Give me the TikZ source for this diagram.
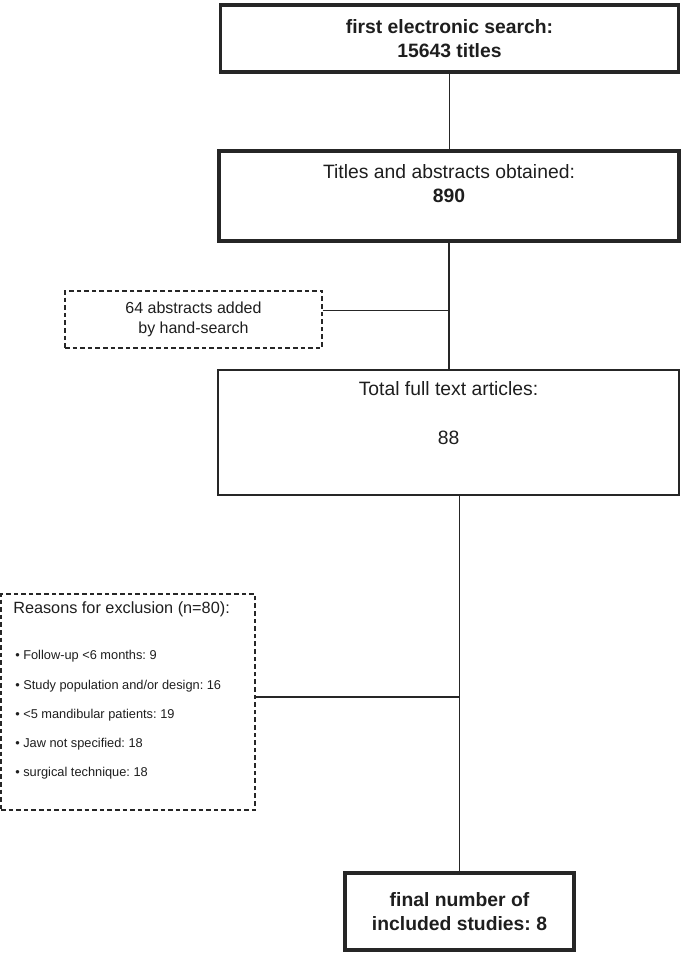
\documentclass[tikz,border=0pt]{standalone}
\usepackage{fontspec}
\setmainfont{Liberation Sans}
\frenchspacing
\definecolor{lineclr}{RGB}{38,38,38}
\definecolor{txtclr}{RGB}{30,30,30}
\begin{document}
\frenchspacing
\begin{tikzpicture}[x=0.75pt,y=-0.75pt,
  thickbox/.style={draw=lineclr, line width=2.8pt, rectangle, inner sep=0pt, align=center, text=txtclr},
  thinbox/.style={draw=lineclr, line width=1pt, rectangle, inner sep=0pt},
  dashbox/.style={draw=lineclr, line width=0.8pt, dash pattern=on 3.5pt off 2.2pt, rectangle, inner sep=0pt, align=center, text=txtclr},
  conn/.style={draw=lineclr, line width=0.8pt},
  bigtxt/.style={font=\fontsize{14.5}{17.5}\selectfont, text=txtclr, inner sep=0pt, align=center},
  bigbold/.style={font=\fontsize{14.5}{18}\selectfont\bfseries},
  midtxt/.style={font=\fontsize{12}{15}\selectfont},
  smalltxt/.style={font=\fontsize{9.6}{12}\selectfont, text=txtclr, inner sep=0pt, anchor=west},
]
\useasboundingbox (0,0) rectangle (685,954);

% boxes
\node[thickbox, bigbold, minimum width=343.5pt, minimum height=50.25pt] (b1) at (449.5,38.5) {first electronic search:\\15643 titles};
\node[thickbox, minimum width=345pt, minimum height=67.5pt] (b2) at (449,196) {};
\node[bigtxt] (t2) at (449,183.5) {Titles and abstracts obtained:\\\textbf{890}};
\node[dashbox, midtxt, minimum width=192.75pt, minimum height=42.75pt] (d1) at (193.5,319.5) {64 abstracts added\\by hand-search};
\node[thinbox, minimum width=345.75pt, minimum height=93.75pt] (b3) at (448.5,432.5) {};
\node[bigtxt] (t3a) at (448.5,389) {Total full text articles:};
\node[bigtxt] (t3b) at (448.5,438) {88};
\node[dashbox, minimum width=190.5pt, minimum height=162pt] (ex) at (128,702) {};
\node[smalltxt, font=\fontsize{12.2}{15}\selectfont] (e0) at (13,609) {Reasons for exclusion (n=80):};
\node[smalltxt] (e1) at (15,656) {• Follow-up <6 months: 9};
\node[smalltxt] (e2) at (15,686) {• Study population and/or design: 16};
\node[smalltxt] (e3) at (15,715) {• <5 mandibular patients: 19};
\node[smalltxt] (e4) at (15,744) {• Jaw not specified: 18};
\node[smalltxt] (e5) at (15,773) {• surgical technique: 18};
\node[thickbox, bigbold, minimum width=171.75pt, minimum height=57.75pt] (b4) at (459.5,911.5) {final number of\\included studies: 8};

% connectors
\draw[conn] (b1.south) -- (b1.south |- b2.north);
\draw[conn] (b2.south) -- (b2.south |- b3.north);
\draw[conn] ([yshift=7pt]d1.east) -- ([yshift=7pt]d1.east -| b2.south);
\draw[conn] (b3.south -| b4.north) -- (b4.north);
\draw[conn] ([yshift=3.75pt]ex.east) -- ([yshift=3.75pt]ex.east -| b4.north);
\end{tikzpicture}
\end{document}
